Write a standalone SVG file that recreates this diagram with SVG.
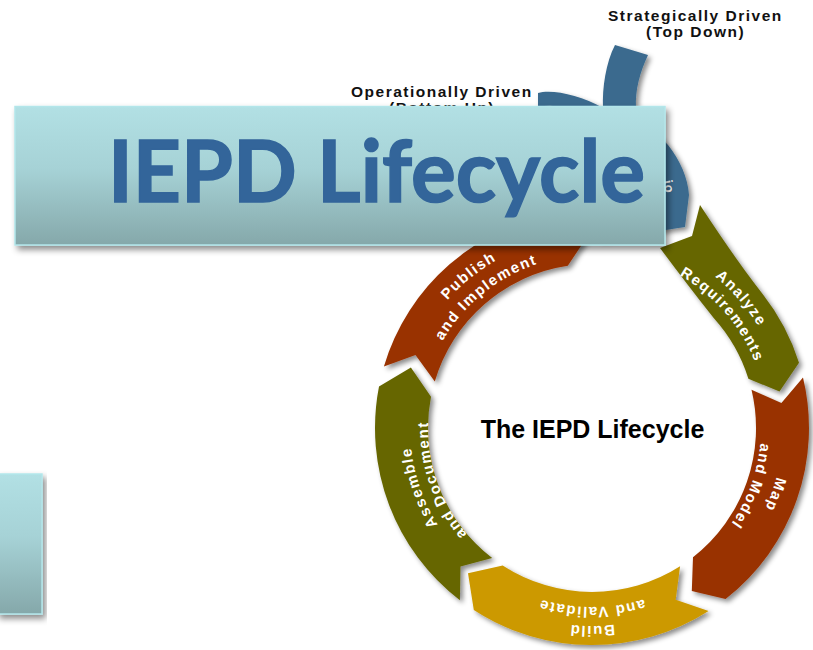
<svg xmlns="http://www.w3.org/2000/svg" width="813" height="650" viewBox="0 0 813 650">
<defs>
<style>
.seg{filter:url(#sh)}
.lbl{font-family:"Liberation Sans",Arial,sans-serif;font-weight:bold;font-size:15px;letter-spacing:1.5px;fill:#ffffff}
.cap{font-family:"Liberation Sans",Arial,sans-serif;font-weight:bold;font-size:15.5px;letter-spacing:1.5px;fill:#111111}
.panel{fill:url(#bg);stroke:#b3e6ea;stroke-width:1.5;filter:url(#psh)}
</style>
<filter id="sh" x="-20%" y="-20%" width="140%" height="140%"><feDropShadow dx="3" dy="3" stdDeviation="2.5" flood-color="#000" flood-opacity="0.45"/></filter>
<filter id="psh" x="-10%" y="-10%" width="120%" height="130%"><feDropShadow dx="3" dy="4" stdDeviation="3" flood-color="#000" flood-opacity="0.45"/></filter>
<linearGradient id="bg" x1="0" y1="0" x2="0" y2="1"><stop offset="0" stop-color="#b2e0e4"/><stop offset="0.45" stop-color="#a6d2d6"/><stop offset="1" stop-color="#85a8aa"/></linearGradient>
<path id="pA1" d="M588.60,233.03 A195 195 0 0 1 784.60,458.50"/>
<path id="pA2" d="M588.93,252.03 A176 176 0 0 1 765.83,455.53"/>
<path id="pM1" d="M757.41,332.5 A191 191 0 0 1 657.33,607.48"/>
<path id="pM2" d="M738.36,343.5 A169 169 0 0 1 649.80,586.81"/>
<path id="pB1" d="M743.68,555.27 A198 198 0 0 1 440.32,555.27"/>
<path id="pB2" d="M729.12,543.06 A179 179 0 0 1 454.88,543.06"/>
<path id="pS1" d="M526.78,597.91 A182 182 0 0 1 436.00,334.26"/>
<path id="pS2" d="M533.23,581.11 A164 164 0 0 1 451.42,343.53"/>
<path id="pP1" d="M399.03,424.63 A193 193 0 0 1 628.83,238.55"/>
<path id="pP2" d="M419.03,424.98 A173 173 0 0 1 625.01,258.18"/>
</defs>
<rect width="813" height="650" fill="#ffffff"/>

<g id="connectors"></g>

<g id="scenario">
<path class="seg" fill="#3a6a8e" d="M615,45 L648,55 C640,72 635,90 636,108 C638,122 655,130 668,145 C680,160 688,178 689,195 L685,227 L640,234 L600,240 C598,180 590,130 575,115 C565,106 552,104 538,107 L538,93 C552,89 580,95 603,108 C602,88 606,62 615,45 Z"/>
<text class="lbl" transform="translate(663,181) rotate(78)" style="letter-spacing:1px;font-size:13px">io</text>
</g>

<g id="analyze">
<path class="seg" fill="#666600" d="M700,205 Q738,263 763.0,294.4 A217 217 0 0 1 799.0,362.7 L779.5,391.6 L748.4,378.7 A164 164 0 0 0 713.9,318.3 Q689,287 660,248 L692,236 Z"/>
<text class="lbl"><textPath href="#pA1" startOffset="50%" text-anchor="middle">Analyze</textPath></text>
<text class="lbl"><textPath href="#pA2" startOffset="50%" text-anchor="middle">Requirements</textPath></text>
</g>

<g id="map">
<path class="seg" fill="#993300" d="M803.0,377.4 A217 217 0 0 1 725.6,599.0 L691.8,590.9 L693.0,557.2 A164 164 0 0 0 751.5,389.7 L781.4,403.1 Z"/>
<text class="lbl"><textPath href="#pM1" startOffset="50%" text-anchor="middle">Map</textPath></text>
<text class="lbl"><textPath href="#pM2" startOffset="50%" text-anchor="middle">and Model</textPath></text>
</g>

<g id="build">
<path class="seg" fill="#cc9900" d="M708.6,611.0 A217 217 0 0 1 473.8,610.0 L468.0,573.2 L502.7,565.5 A164 164 0 0 0 680.1,566.3 L675.7,599.7 Z"/>
<text class="lbl"><textPath href="#pB1" startOffset="50%" text-anchor="middle">Build</textPath></text>
<text class="lbl"><textPath href="#pB2" startOffset="50%" text-anchor="middle">and Validate</textPath></text>
</g>

<g id="assemble">
<path class="seg" fill="#666600" d="M459.9,600.2 A217 217 0 0 1 379.0,386.6 L410.9,367.4 L431.0,396.7 A164 164 0 0 0 492.2,558.1 L460.5,566.5 Z"/>
<text class="lbl"><textPath href="#pS1" startOffset="50%" text-anchor="middle">Assemble</textPath></text>
<text class="lbl"><textPath href="#pS2" startOffset="50%" text-anchor="middle">and Document</textPath></text>
</g>

<g id="publish">
<path class="seg" fill="#993300" d="M383.9,366.4 A217 217 0 0 1 559.9,213.4 L587.0,237.1 L567.8,265.8 A164 164 0 0 0 434.8,381.4 L415.5,354.9 Z"/>
<text class="lbl"><textPath href="#pP1" startOffset="50%" text-anchor="middle">Publish</textPath></text>
<text class="lbl"><textPath href="#pP2" startOffset="50%" text-anchor="middle">and Implement</textPath></text>
</g>

<g id="center-title">
<text x="592.5" y="438" text-anchor="middle" font-family="'Liberation Sans',Arial,sans-serif" font-weight="bold" font-size="25" fill="#000000">The IEPD Lifecycle</text>
</g>

<g id="strategic-label">
<text class="cap" x="608" y="21">Strategically Driven</text>
<text class="cap" x="646" y="37">(Top Down)</text>
</g>

<g id="operational-label">
<text class="cap" x="351" y="96.5">Operationally Driven</text>
<text class="cap" x="389" y="113">(Bottom Up)</text>
</g>

<g id="title-banner">
<rect class="panel" x="15" y="106.5" width="650" height="138.5"/>
<text x="108" y="202" font-family="Lato,'Open Sans',sans-serif" font-weight="bold" font-size="87" fill="#33659a" stroke="#33659a" stroke-width="1.5" textLength="537" lengthAdjust="spacingAndGlyphs">IEPD Lifecycle</text>
</g>

<g id="side-panel">
<rect class="panel" x="-3" y="474" width="45" height="140"/>
</g>
</svg>
